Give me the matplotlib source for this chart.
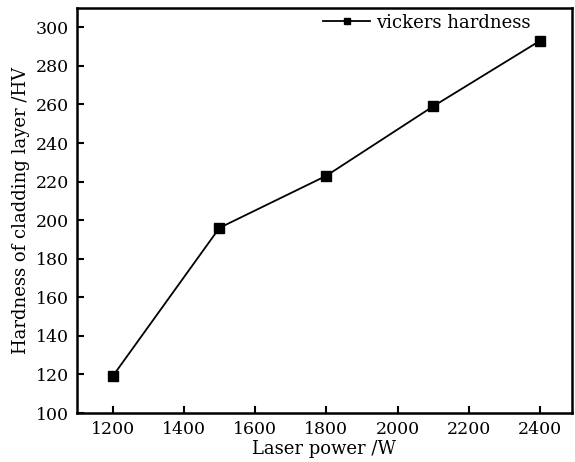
import matplotlib
matplotlib.use('Agg')
import matplotlib.pyplot as plt

power = [1200, 1500, 1800, 2100, 2400]
hardness = [119, 196, 223, 259, 293]
xticks = [1200, 1400, 1600, 1800, 2000, 2200, 2400]
yticks = [100, 120, 140, 160, 180, 200, 220, 240, 260, 280, 300]

plt.rcParams['font.family'] = 'DejaVu Serif'

fig = plt.figure(figsize=(5.75, 4.62), dpi=100)
ax = fig.add_axes([77/575, 1-413/462, 495/575, 405/462])

ax.plot(power, hardness, color='black', lw=1.3, marker='s', ms=6.5,
        label='vickers hardness')

ax.set_xlim(1100, 2490)
ax.set_ylim(100, 310)
ax.set_xticks(xticks)
ax.set_yticks(yticks)
ax.tick_params(direction='in', length=5, width=1.5, labelsize=12.5, pad=6)
for s in ax.spines.values():
    s.set_linewidth(1.8)

ax.set_xlabel('Laser power /W', fontsize=13, labelpad=1)
ax.set_ylabel('Hardness of cladding layer /HV', fontsize=13, labelpad=4)

ax.legend(loc='upper right', frameon=False, fontsize=13, handlelength=2.6,
          handletextpad=0.3, borderaxespad=0.1, markerscale=0.7,
          bbox_to_anchor=(0.934, 1.008))

fig.savefig('out.png', dpi=100)
